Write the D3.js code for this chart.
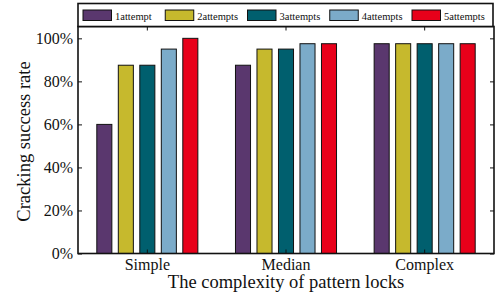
<!DOCTYPE html>
<html>
<head>
<meta charset="utf-8">
<script src="https://cdn.jsdelivr.net/npm/d3@7"></script>
<style>
  body { margin: 0; background: #fff; }
  text { font-family: "Liberation Serif", "DejaVu Serif", serif; fill: #111; }
</style>
</head>
<body>
<div class="chart"></div>
<script>
// chart data
var categories = ["Simple", "Median", "Complex"];
var seriesNames = ["1attempt", "2attempts", "3attempts", "4attempts", "5attempts"];
var seriesColors = ["#5a376e", "#c6b92d", "#005f6e", "#7babc9", "#e8001a"];
var attempt1 = [0.60, 0.875, 0.975];
var attempt2 = [0.875, 0.95, 0.975];
var attempt3 = [0.875, 0.95, 0.975];
var attempt4 = [0.95, 0.975, 0.975];
var attempt5 = [1.00, 0.975, 0.975];
var yTicks = [0, 0.2, 0.4, 0.6, 0.8, 1.0];

var seriesValues = [attempt1, attempt2, attempt3, attempt4, attempt5];

var svgWidth = 501;
var svgHeight = 295;

// plot box (window.top is reserved, so use other names)
var plotLeft = 78, plotRight = 494, plotTop = 26.5, plotBottom = 253.5;

var svg = d3.select(".chart")
  .append("svg")
  .attr("width", svgWidth)
  .attr("height", svgHeight);

// scales
var x0 = d3.scaleBand()
  .domain(categories)
  .range([plotLeft, plotRight]);

var groupWidth = 107.5;
var x1 = d3.scaleBand()
  .domain(seriesNames)
  .range([0, groupWidth])
  .paddingInner(0.3)
  .paddingOuter(0.15);

var y = d3.scaleLinear()
  .domain([0, 1.055])
  .range([plotBottom, plotTop]);

// bars
var groups = svg.selectAll("g.group")
  .data(categories)
  .enter()
  .append("g")
  .attr("class", "group")
  .attr("transform", d => `translate(${x0(d) + x0.bandwidth() / 2 - groupWidth / 2}, 0)`);

groups.selectAll("rect")
  .data((c, ci) => seriesNames.map((s, si) => ({ s: s, i: si, v: seriesValues[si][ci] })))
  .enter()
  .append("rect")
  .attr("x", d => x1(d.s))
  .attr("y", d => y(d.v))
  .attr("width", x1.bandwidth())
  .attr("height", d => y(0) - y(d.v))
  .attr("fill", d => seriesColors[d.i])
  .attr("stroke", "#111")
  .attr("stroke-width", 1);

// axes (ticks inward)
var leftAxis = d3.axisLeft(y).tickValues(yTicks).tickSize(-4).tickPadding(5)
  .tickFormat(d3.format(".0%"));
var rightAxis = d3.axisRight(y).tickValues(yTicks).tickSize(-4).tickFormat("");
var topAxis = d3.axisTop(x0).tickSize(-4).tickFormat("");
var bottomAxis = d3.axisBottom(x0).tickSize(-4).tickPadding(5);

var yAxisL = svg.append("g").attr("transform", `translate(${plotLeft}, 0)`).call(leftAxis);
var yAxisR = svg.append("g").attr("transform", `translate(${plotRight}, 0)`).call(rightAxis);
var xAxisT = svg.append("g").attr("transform", `translate(0, ${plotTop})`).call(topAxis);
var xAxisB = svg.append("g").attr("transform", `translate(0, ${plotBottom})`).call(bottomAxis);

[yAxisL, yAxisR, xAxisT, xAxisB].forEach(function(a) {
  a.select(".domain").remove();
  a.selectAll("line").attr("stroke", "#111").attr("stroke-width", 1);
});
yAxisL.selectAll("text").style("font-size", "16px").attr("fill", "#111");
xAxisB.selectAll("text").style("font-size", "16px").attr("fill", "#111").attr("dy", "0.7em");

// frame
svg.append("rect")
  .attr("x", plotLeft)
  .attr("y", plotTop)
  .attr("width", plotRight - plotLeft)
  .attr("height", plotBottom - plotTop)
  .attr("fill", "none")
  .attr("stroke", "#111")
  .attr("stroke-width", 1.6);

// axis titles
svg.append("text")
  .attr("x", (plotLeft + plotRight) / 2)
  .attr("y", 287.5)
  .attr("text-anchor", "middle")
  .style("font-size", "18.5px")
  .text("The complexity of pattern locks");

svg.append("text")
  .attr("transform", "rotate(-90)")
  .attr("x", -141.5)
  .attr("y", 30)
  .attr("text-anchor", "middle")
  .style("font-size", "18.5px")
  .text("Cracking success rate");

// legend
var legend = svg.append("g");
legend.append("rect")
  .attr("x", plotLeft)
  .attr("y", 3.5)
  .attr("width", plotRight - plotLeft - 1)
  .attr("height", plotTop - 3.5)
  .attr("fill", "#fff")
  .attr("stroke", "#111")
  .attr("stroke-width", 1.6);

var items = legend.selectAll("g.item")
  .data(seriesNames)
  .enter()
  .append("g")
  .attr("transform", (d, i) => `translate(${83 + i * 82.25}, 0)`);

items.append("rect")
  .attr("x", 0)
  .attr("y", 10)
  .attr("width", 28.5)
  .attr("height", 10.5)
  .attr("fill", (d, i) => seriesColors[i])
  .attr("stroke", "#111")
  .attr("stroke-width", 1);

items.append("text")
  .attr("x", 32)
  .attr("y", 19.5)
  .style("font-size", "10.5px")
  .text(d => d);
</script>
</body>
</html>
